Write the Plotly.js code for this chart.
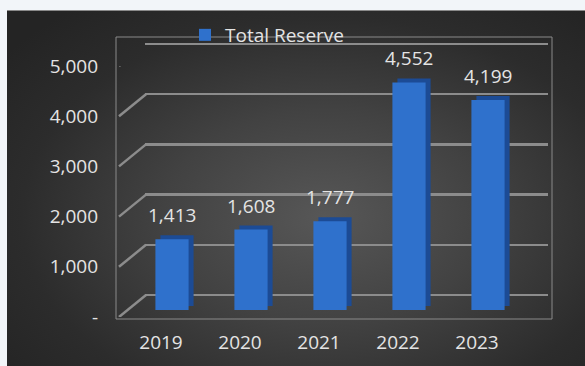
<!DOCTYPE html>
<html><head><meta charset="utf-8">
<script src="https://cdn.plot.ly/plotly-3.0.1.min.js"></script>
<style>
html,body{margin:0;padding:0;background:#f2f5f9;}
#wrap{position:relative;width:585px;height:366px;overflow:hidden;}
#bg{position:absolute;left:7px;top:10px;width:578px;height:356px;box-sizing:border-box;border-top:1px solid #8a8a8a;
background:radial-gradient(ellipse 70% 75% at 55% 58%, #575757 0%, #424242 40%, #2c2c2c 75%, #242424 100%);}
#chart{position:absolute;left:0;top:0;width:585px;height:366px;}
</style></head>
<body><div id="wrap"><div id="bg"></div><div id="chart"></div></div>
<script>
const years = ['2019', '2020', '2021', '2022', '2023'];
const totalReserve = [1413, 1608, 1777, 4552, 4199];
const yTickVals = [0, 1000, 2000, 3000, 4000, 5000];
const yTickText = ['-', '1,000', '2,000', '3,000', '4,000', '5,000'];
const seriesName = 'Total Reserve';

const W = 585, H = 366;
const px = v => v / W;
const py = v => (H - v) / H;
const fmt = v => v.toLocaleString('en-US');
const FONT = 'Open Sans, Noto Sans, sans-serif';
const FS = 19;
const TXT = '#e4e4e4';
const DX = 27, DY = 22; // depth offset front->back in px
const idx = years.map((_, i) => i);

const traces = [
  {type: 'scatter', x: [], y: [], xaxis: 'x', yaxis: 'y', showlegend: false, hoverinfo: 'skip'},
  {type: 'bar', x: idx, y: totalReserve, xaxis: 'x2', yaxis: 'y2', width: 0.42,
   marker: {color: '#1c4b95'}, showlegend: false, hoverinfo: 'skip'},
  {type: 'bar', x: idx, y: totalReserve, xaxis: 'x3', yaxis: 'y3', width: 0.42, name: seriesName,
   marker: {color: '#2f71cc'}},
  {type: 'scatter', x: [], y: [], xaxis: 'x4', yaxis: 'y4', showlegend: false, hoverinfo: 'skip'}
];

const hidden = {showgrid: false, zeroline: false, showline: false, showticklabels: false, ticks: ''};

const shapes = [
  {type: 'rect', xref: 'paper', yref: 'paper', x0: px(116), x1: px(552), y0: py(319), y1: py(37),
   line: {color: '#8a8a8a', width: 1}, layer: 'below'}
];
yTickVals.forEach(v => {
  shapes.push({type: 'line', xref: 'paper', yref: 'y4', xsizemode: 'pixel', ysizemode: 'pixel',
    xanchor: px(119), yanchor: v, x0: 0, x1: DX, y0: 0, y1: DY,
    line: {color: '#8c8c8c', width: 2.5}, layer: 'below'});
});

const annotations = idx.map(i => ({
  xref: 'x3', yref: 'y3', x: i, y: totalReserve[i], yshift: 24, showarrow: false,
  text: fmt(totalReserve[i]), font: {family: FONT, size: FS, color: TXT}
}));

const PPU = 251 / 5000; // px per unit on back/front planes
const layout = {
  width: W, height: H, margin: {l: 0, r: 0, t: 0, b: 0},
  paper_bgcolor: 'rgba(0,0,0,0)', plot_bgcolor: 'rgba(0,0,0,0)',
  font: {family: FONT, size: FS, color: TXT},
  showlegend: true,
  legend: {x: px(185), y: py(16), xanchor: 'left', yanchor: 'top', orientation: 'h',
    bgcolor: 'rgba(0,0,0,0)', font: {family: FONT, size: FS, color: TXT}},
  // back wall gridlines
  xaxis: Object.assign({}, hidden, {domain: [px(145), px(548)], range: [0, 1], anchor: 'y'}),
  yaxis: {domain: [py(295 + 100 * PPU), py(44 - 100 * PPU)], range: [-100, 5100], anchor: 'x', tickvals: yTickVals,
    showgrid: true, gridcolor: '#8c8c8c', gridwidth: 2.5, zeroline: false, showticklabels: false, ticks: ''},
  // side faces
  xaxis2: Object.assign({}, hidden, {domain: [px(132.5), px(527.5)], range: [-0.5 - 5/79, 4.5 - 5/79], anchor: 'y2'}),
  yaxis2: Object.assign({}, hidden, {domain: [py(306), py(56)], range: [0, 5000], anchor: 'x2'}),
  // front faces
  xaxis3: Object.assign({}, hidden, {domain: [px(132.5), px(527.5)], range: [-0.5, 4.5], anchor: 'y3'}),
  yaxis3: Object.assign({}, hidden, {domain: [py(310), py(60)], range: [0, 5000], anchor: 'x3'}),
  // front tick labels
  xaxis4: {domain: [px(121.5), px(516.5)], range: [-0.5, 4.5], anchor: 'free', position: py(329),
    tickvals: idx, ticktext: years, showgrid: false, zeroline: false, showline: false, ticks: '',
    tickfont: {family: FONT, size: FS, color: TXT}},
  yaxis4: {domain: [py(317), py(66)], range: [0, 5000], anchor: 'free', position: px(98),
    tickvals: yTickVals, ticktext: yTickText, showgrid: false, zeroline: false, showline: false, ticks: '',
    tickfont: {family: FONT, size: FS, color: TXT}},
  shapes: shapes,
  annotations: annotations
};

Plotly.newPlot('chart', traces, layout, {displayModeBar: false, staticPlot: true});
</script>
</body></html>
